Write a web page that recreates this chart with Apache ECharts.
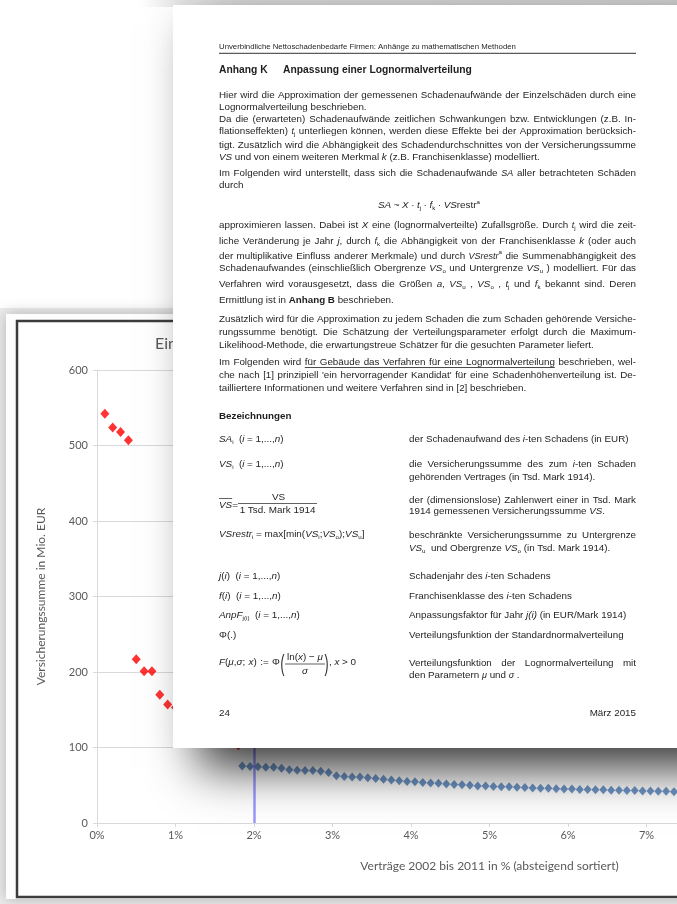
<!DOCTYPE html>
<html><head><meta charset="utf-8">
<script src="https://cdn.jsdelivr.net/npm/echarts@6/dist/echarts.min.js"></script>
<style>html,body{margin:0;padding:0;background:#fff;overflow:hidden}#c{width:677px;height:904px}</style>
</head><body><div id="c"></div>
<script>
// ---------- chart data ----------
const redX = [0.1,0.2,0.3,0.4,0.5,0.6,0.7,0.8,0.9,1.0,1.1,1.2,1.3,1.4,1.5,1.6,1.7,1.8];
const redY = [542,524,518,507,217,201,201,170,157,153,148,140,132,125,118,112,107,103];
const blueX = [1.85,1.95,2.05,2.15,2.25,2.35,2.45,2.55,2.65,2.75,2.85,2.95,3.05,3.15,3.25,3.35,3.45,3.55,3.65,3.75,
  3.85,3.95,4.05,4.15,4.25,4.35,4.45,4.55,4.65,4.75,4.85,4.95,5.05,5.15,5.25,5.35,5.45,5.55,5.65,5.75,
  5.85,5.95,6.05,6.15,6.25,6.35,6.45,6.55,6.65,6.75,6.85,6.95,7.05,7.15,7.25,7.35,7.45,7.55];
const blueY = [75.5,75,74.5,74,74,72.5,70.5,70,69.5,69.5,68.5,67,62.5,61.5,61,61,60,59,58,57,
  56,55,54.5,53.5,53,52.5,51.5,51,50.5,50,49,49,48.5,48,48,47.5,47,46.5,46,46,
  45.5,45,45,44.5,44.5,44,44,43.5,43.5,43,43,42.5,42.5,42,42,41.5,41.5,41];
const markX = 2;
const chartTitle = 'Einzelverträge';
const xName = 'Verträge 2002 bis 2011 in % (absteigend sortiert)';
const yName = 'Versicherungssumme in Mio. EUR';

// ---------- document page text ----------
const L = 219, R = 636, C2 = 409;
const docLines = [
 {x0:L,y:47,t:'Unverbindliche Nettoschadenbedarfe Firmen: Anhänge zu mathematischen Methoden',base:'h'},
 {x0:L,y:70,t:'Anhang K',base:'hb'},
 {x0:283,y:70,t:'Anpassung einer Lognormalverteilung',base:'hb'},
 {x0:L,x1:R,y:95,j:1,t:'Hier wird die Approximation der gemessenen Schadenaufwände der Einzelschäden durch eine'},
 {x0:L,y:107,t:'Lognormalverteilung beschrieben.'},
 {x0:L,x1:R,y:119,j:1,t:'Da die (erwarteten) Schadenaufwände zeitlichen Schwankungen bzw. Entwicklungen (z.B. In-'},
 {x0:L,x1:R,y:131,j:1,t:'flationseffekten) {m:t}{sub:j} unterliegen können, werden diese Effekte bei der Approximation berücksich-'},
 {x0:L,x1:R,y:145,j:1,t:'tigt. Zusätzlich wird die Abhängigkeit des Schadendurchschnittes von der Versicherungssumme'},
 {x0:L,y:157,t:'{i:VS} und von einem weiteren Merkmal {i:k} (z.B. Franchisenklasse) modelliert.'},
 {x0:L,x1:R,y:173,j:1,t:'Im Folgenden wird unterstellt, dass sich die Schadenaufwände {m:SA} aller betrachteten Schäden'},
 {x0:L,y:185,t:'durch'},
 {x0:378,x1:480,j:1,y:205.5,t:'{fi:SA} ~ {fi:X} · {fi:t}{sub:j} · {fi:f}{sub:k} · {fi:VS}restr{sup:a}',base:'f'},
 {x0:L,x1:R,y:225,j:1,t:'approximieren lassen. Dabei ist {i:X} eine (lognormalverteilte) Zufallsgröße. Durch {m:t}{sub:j} wird die zeit-'},
 {x0:L,x1:R,y:241,j:1,t:'liche Veränderung je Jahr {i:j}, durch {m:f}{sub:k} die Abhängigkeit von der Franchisenklasse {i:k} (oder auch'},
 {x0:L,x1:R,y:256,j:1,t:'der multiplikative Einfluss anderer Merkmale) und durch {m:VSrestr}{sup:a} die Summenabhängigkeit des'},
 {x0:L,x1:R,y:268,j:1,t:'Schadenaufwandes (einschließlich Obergrenze {i:VS}{sub:o} und Untergrenze {i:VS}{sub:u} ) modelliert. Für das'},
 {x0:L,x1:R,y:284,j:1,t:'Verfahren wird vorausgesetzt, dass die Größen {i:a}, {i:VS}{sub:u} , {i:VS}{sub:o} , {i:t}{sub:j} und {i:f}{sub:k} bekannt sind. Deren'},
 {x0:L,y:300,t:'Ermittlung ist in {b:Anhang B} beschrieben.'},
 {x0:L,x1:R,y:319,j:1,t:'Zusätzlich wird für die Approximation zu jedem Schaden die zum Schaden gehörende Versiche-'},
 {x0:L,x1:R,y:332,j:1,t:'rungssumme benötigt. Die Schätzung der Verteilungsparameter erfolgt durch die Maximum-'},
 {x0:L,y:345,t:'Likelihood-Methode, die erwartungstreue Schätzer für die gesuchten Parameter liefert.'},
 {x0:L,x1:R,y:362,j:1,t:'Im Folgenden wird {u:für Gebäude das Verfahren für eine Lognormalverteilung} beschrieben, wel-'},
 {x0:L,x1:R,y:375,j:1,t:'che nach [1] prinzipiell \'ein hervorragender Kandidat\' für eine Schadenhöhenverteilung ist. De-'},
 {x0:L,y:388,t:'tailliertere Informationen und weitere Verfahren sind in [2] beschrieben.'},
 {x0:L,y:416,t:'Bezeichnungen',base:'b'},
 {x0:L,x1:283.5,j:1,y:439.5,t:'{fi:SA}{sub:i}  ({fi:i} = 1,...,{fi:n})',base:'f'},
 {x0:C2,y:439,t:'der Schadenaufwand des {i:i}-ten Schadens (in EUR)'},
 {x0:L,x1:283.5,j:1,y:464.5,t:'{fi:VS}{sub:i}  ({fi:i} = 1,...,{fi:n})',base:'f'},
 {x0:C2,x1:R,y:464,j:1,t:'die Versicherungssumme des zum {i:i}-ten Schaden'},
 {x0:C2,y:477,t:'gehörenden Vertrages (in Tsd. Mark 1914).'},
 {x0:C2,x1:R,y:500,j:1,t:'der (dimensionslose) Zahlenwert einer in Tsd. Mark'},
 {x0:C2,y:511,t:'1914 gemessenen Versicherungssumme {i:VS}.'},
 {x0:L,y:534.7,t:'{fi:VSrestr}{sub:i} = max[min({fi:VS}{sub:i};{fi:VS}{sub:o});{fi:VS}{sub:u}]',base:'f'},
 {x0:C2,x1:R,y:535,j:1,t:'beschränkte Versicherungssumme zu Untergrenze'},
 {x0:C2,y:548,t:'{i:VS}{sub:u}  und Obergrenze {i:VS}{sub:o} (in Tsd. Mark 1914).'},
 {x0:L,y:576,t:'{fi:j}({fi:i})  ({fi:i} = 1,...,{fi:n})',base:'f'},
 {x0:C2,y:576,t:'Schadenjahr des {i:i}-ten Schadens'},
 {x0:L,y:596,t:'{fi:f}({fi:i})  ({fi:i} = 1,...,{fi:n})',base:'f'},
 {x0:C2,y:596,t:'Franchisenklasse des {i:i}-ten Schadens'},
 {x0:L,y:615,t:'{fi:AnpF}{sub:j(i)}  ({fi:i} = 1,...,{fi:n})',base:'f'},
 {x0:C2,y:615,t:'Anpassungsfaktor für Jahr {i:j(i)} (in EUR/Mark 1914)'},
 {x0:L,y:635,t:'Φ(.)',base:'f'},
 {x0:C2,y:635,t:'Verteilungsfunktion der Standardnormalverteilung'},
 {x0:L,x1:280,j:1,y:662,t:'{fi:F}({fi:μ},{fi:σ}; {fi:x}) := Φ',base:'f'},
 {x0:329,x1:356,j:1,y:662,t:', {fi:x} > 0',base:'f'},
 {x0:C2,x1:R,y:663,j:1,t:'Verteilungsfunktion der Lognormalverteilung mit'},
 {x0:C2,y:675,t:'den Parametern {m:μ} und {m:σ} .'},
 {x0:L,y:713,t:'24'},
 {x0:L,x1:R,y:713,t:'März 2015',align:'right'}
];

// ---------- text layout helpers ----------
const FONT = "'Liberation Sans', Arial, sans-serif";
const TXT = '#1e1e1e';
const STY = {
  n:{size:9.8}, i:{size:9.8,style:'italic'}, b:{size:9.8,weight:'bold'},
  u:{size:9.8,underline:true},
  m:{size:9,style:'italic'},
  f:{size:9.9}, fi:{size:9.9,style:'italic'},
  sub:{size:6.2,dy:3}, sup:{size:6.2,dy:-3.5},
  h:{size:7.8}, hb:{size:10.3,weight:'bold'}
};
const mctx = document.createElement('canvas').getContext('2d');
function fontStr(s){ return (s.style||'normal')+' '+(s.weight||'normal')+' '+s.size+'px '+FONT; }
function measure(t,s){ mctx.font = fontStr(s); return mctx.measureText(t).width; }
function parse(str, base){
  const out=[]; const re=/\{(\w+):([^}]*)\}/g; let last=0, m;
  while((m=re.exec(str))){ if(m.index>last) out.push([base,str.slice(last,m.index)]); out.push([m[1],m[2]]); last=re.lastIndex; }
  if(last<str.length) out.push([base,str.slice(last)]);
  return out;
}
function layoutLine(spec, els){
  const pieces=[];
  parse(spec.t, spec.base||'n').forEach(([k,txt])=>{
    txt.split(/( )/).forEach(p=>{ if(p!=='') pieces.push({k:k,text:p,space:p===' '}); });
  });
  let nat=0, nsp=0;
  pieces.forEach(p=>{ p.w=measure(p.text,STY[p.k]); nat+=p.w; if(p.space) nsp++; });
  let extra=0;
  if(spec.j && nsp>0) extra=(spec.x1-spec.x0-nat)/nsp;
  let x=spec.x0;
  if(spec.align==='right') x=spec.x1-nat;
  let uMin=null,uMax=null;
  pieces.forEach(p=>{
    const s=STY[p.k];
    if(!p.space){
      els.push({type:'text',x:x,y:spec.y+(s.dy||0),z:60,silent:true,
        style:{text:p.text,font:fontStr(s),fill:TXT,verticalAlign:'middle',align:'left'}});
    }
    const adv=p.w+(p.space?extra:0);
    if(s.underline){ if(uMin===null) uMin=x; uMax=x+adv; }
    x+=adv;
  });
  if(uMin!==null) els.push({type:'line',z:60,silent:true,shape:{x1:uMin,y1:spec.y+5.5,x2:uMax,y2:spec.y+5.5},style:{stroke:TXT,lineWidth:0.8}});
}
function txt(t,x,y,s,extra){
  return Object.assign({type:'text',x:x,y:y,z:60,silent:true,
    style:{text:t,font:fontStr(s),fill:TXT,verticalAlign:'middle',align:'left'}},extra||{});
}

const els = [];
// backdrop behind the chart picture
els.push({type:'rect',z:-3,silent:true,shape:{x:0,y:308,width:677,height:596},style:{fill:'#ececec'}});
els.push({type:'rect',z:-2,silent:true,shape:{x:6,y:314,width:700,height:585},
  style:{fill:'#fdfdfd',shadowBlur:14,shadowColor:'rgba(0,0,0,0.25)'}});
els.push({type:'rect',z:-1,silent:true,shape:{x:17,y:321,width:700,height:576},
  style:{fill:'#ffffff',stroke:'#3c3c3c',lineWidth:2.5}});
// soft grey band above the page
els.push({type:'rect',z:40,silent:true,shape:{x:140,y:0,width:537,height:7},
  style:{fill:new echarts.graphic.LinearGradient(0,0,1,0,[{offset:0,color:'rgba(220,220,220,0)'},{offset:0.08,color:'rgba(220,220,220,0.8)'},{offset:1,color:'rgba(215,215,215,0.9)'}])}});
// document page
els.push({type:'rect',z:50,silent:true,shape:{x:173,y:5,width:560,height:743},
  style:{fill:'#ffffff',shadowBlur:45,shadowOffsetX:25,shadowOffsetY:20,shadowColor:'rgba(0,0,0,0.8)'}});
// header rule
els.push({type:'line',z:60,silent:true,shape:{x1:L,y1:53.3,x2:R,y2:53.3},style:{stroke:'#333',lineWidth:1}});
docLines.forEach(s=>layoutLine(s,els));
// VS-bar fraction
(function(){
  const w=measure('VS',STY.fi);
  els.push(txt('VS',L,505,STY.fi));
  els.push({type:'line',z:60,silent:true,shape:{x1:L,y1:498.5,x2:L+w,y2:498.5},style:{stroke:TXT,lineWidth:0.7}});
  els.push(txt('=',L+w,505,STY.f));
  const wn=measure('VS',STY.f), wd=measure('1 Tsd. Mark 1914',STY.f);
  els.push(txt('VS',278.5-wn/2,497,STY.f));
  els.push({type:'line',z:60,silent:true,shape:{x1:238,y1:503.5,x2:317,y2:503.5},style:{stroke:TXT,lineWidth:0.7}});
  els.push(txt('1 Tsd. Mark 1914',277.5-wd/2,510,STY.f));
})();
// lognormal formula fraction
(function(){
  const big={size:12};
  els.push(txt('(',280.5,664.5,big,{scaleY:2}));
  els.push(txt(')',324.5,664.5,big,{scaleY:2}));
  const parts=[['ln(',STY.f],['x',STY.fi],[') − ',STY.f],['μ',STY.fi]];
  let tot=0; parts.forEach(p=>tot+=measure(p[0],p[1]));
  let x=305-tot/2;
  parts.forEach(p=>{ els.push(txt(p[0],x,657.5,p[1])); x+=measure(p[0],p[1]); });
  els.push({type:'line',z:60,silent:true,shape:{x1:285,y1:664,x2:325,y2:664},style:{stroke:TXT,lineWidth:0.7}});
  els.push(txt('σ',305-measure('σ',STY.fi)/2,671.5,STY.fi));
})();

const chart = echarts.init(document.getElementById('c'));
const axisFont = 'Lato';
chart.setOption({
  animation:false,
  backgroundColor:'#ffffff',
  title:{text:chartTitle,left:150,top:331,textStyle:{fontFamily:axisFont,fontSize:16,fontWeight:'normal',color:'#595959'}},
  grid:{left:97,top:370,width:785,height:453,outerBoundsMode:'none'},
  xAxis:{type:'value',min:0,max:10,interval:1,name:xName,nameLocation:'middle',nameGap:37,
    nameTextStyle:{fontFamily:axisFont,fontSize:12,color:'#595959'},
    axisLine:{show:true,lineStyle:{color:'#d9d9d9',width:1}},
    axisTick:{show:true,length:4,lineStyle:{color:'#d9d9d9'}},
    axisLabel:{formatter:'{value}%',color:'#595959',fontFamily:axisFont,fontSize:11,margin:7},
    splitLine:{show:false}},
  yAxis:{type:'value',min:0,max:600,interval:100,name:yName,nameLocation:'middle',nameGap:50,
    nameTextStyle:{fontFamily:axisFont,fontSize:12,color:'#595959'},
    axisLine:{show:true,lineStyle:{color:'#d9d9d9',width:1}},
    axisTick:{show:true,length:4,lineStyle:{color:'#d9d9d9'}},
    axisLabel:{color:'#595959',fontFamily:axisFont,fontSize:11,margin:9},
    splitLine:{show:true,lineStyle:{color:'#d9d9d9',width:1}}},
  series:[
    {type:'scatter',name:'rot',data:redX.map((x,i)=>[x,redY[i]]),symbol:'diamond',symbolSize:[9,10],
      itemStyle:{color:'#ff0000'},z:3},
    {type:'scatter',name:'blau',data:blueX.map((x,i)=>[x,blueY[i]]),symbol:'diamond',symbolSize:[8,9],
      itemStyle:{color:'#4a7ab8'},z:3,
      markLine:{silent:true,symbol:'none',label:{show:false},animation:false,
        lineStyle:{color:'rgba(110,110,255,0.7)',width:2.5,type:'solid'},data:[{xAxis:markX}]}}
  ],
  graphic:{elements:els}
});
</script>
</body></html>
